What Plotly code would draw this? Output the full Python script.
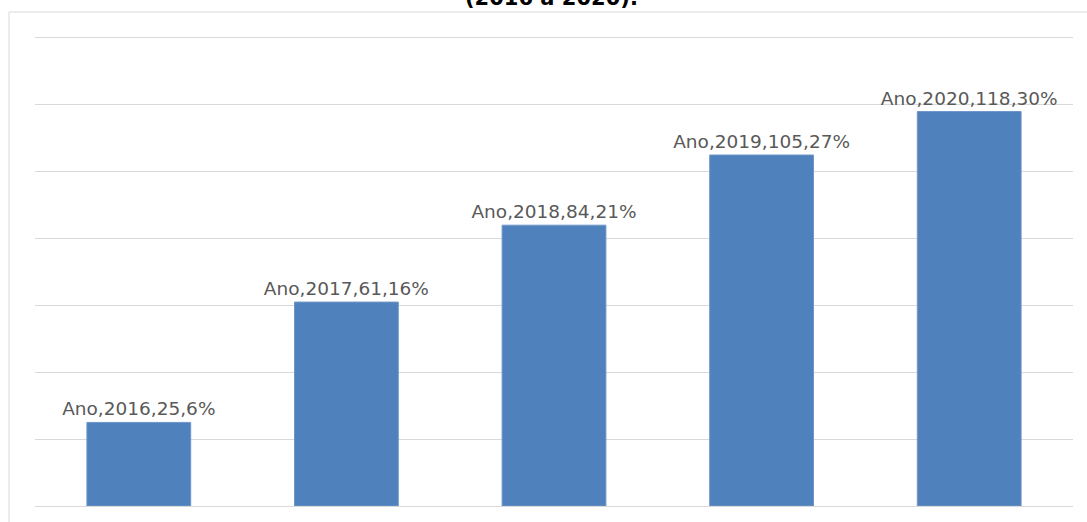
import plotly.graph_objects as go

years = ["2016", "2017", "2018", "2019", "2020"]
values = [25, 61, 84, 105, 118]
percents = [6, 16, 21, 27, 30]
series_name = "Ano"
title_text = "(2016 a 2020)."

labels = [f"{series_name},{y},{v},{p}%" for y, v, p in zip(years, values, percents)]

W, H = 1087, 522
ml, mr, mt, mb = 35, 14, 38, 16
pw, ph = W - ml - mr, H - mt - mb

fig = go.Figure(go.Bar(
    x=years, y=values, text=labels, textposition="outside", constraintext="none",
    textfont=dict(family="DejaVu Sans", size=18.5, color="#595959"),
    marker=dict(color="#4F81BD", line=dict(color="#6f96c9", width=1)),
    cliponaxis=False, hoverinfo="skip",
))

fig.update_layout(
    width=W, height=H,
    margin=dict(l=ml, r=mr, t=mt, b=mb),
    paper_bgcolor="white", plot_bgcolor="white",
    bargap=0.5, showlegend=False,
    xaxis=dict(showticklabels=False, showgrid=False, zeroline=False, showline=True,
               mirror=True, linecolor="#d9d9d9", linewidth=1, ticks=""),
    yaxis=dict(range=[0, 140], dtick=20, showticklabels=False, showgrid=True,
               gridcolor="#d9d9d9", gridwidth=1, zeroline=False, showline=False, ticks=""),
    shapes=[dict(type="rect", xref="paper", yref="paper",
                 x0=(9 - ml) / pw, x1=1.2, y0=-0.2, y1=1 + (mt - 12) / ph,
                 line=dict(color="#d9d9d9", width=1), layer="below")],
    annotations=[dict(text=title_text, xref="paper", yref="paper",
                      x=(551 - ml) / pw, y=1 + (mt + 2) / ph, xanchor="center", yanchor="middle",
                      showarrow=False, borderpad=0,
                      font=dict(family="DejaVu Sans", size=21, color="#000000", weight="bold"))],
)

fig.write_html("out.html", config={"displayModeBar": False},
               post_script="document.body.style.margin='0px';")
